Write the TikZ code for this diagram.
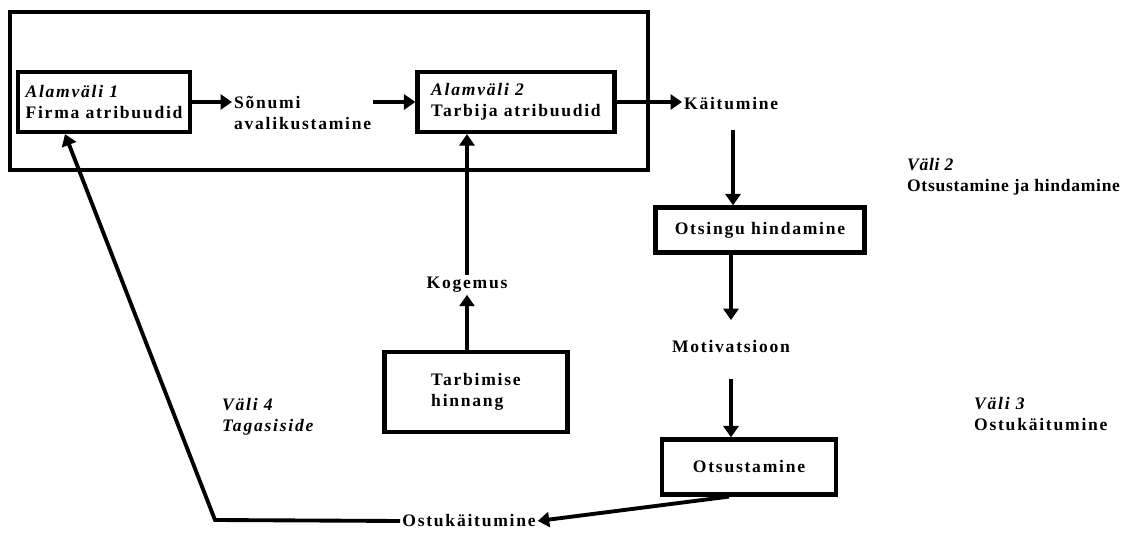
\documentclass[tikz,border=0pt]{standalone}
\usepackage{fontspec}
\setmainfont{Liberation Serif}[LetterSpace=10]
\usetikzlibrary{arrows.meta,calc}

\tikzset{
  blok/.style={draw, line width=2.4pt, align=left, inner sep=3pt},
  tekst/.style={align=left, inner sep=1pt},
  nool/.style={-{Triangle[width=8.5pt,length=6.5pt]}, line width=2.2pt},
}

\begin{document}
\begin{tikzpicture}[x=0.02cm, y=-0.02cm, font=\bfseries\fontsize{10}{12}\selectfont]
\useasboundingbox (0,0) rectangle (1139,540);

% outer frame
\node[draw, line width=2.4pt, minimum width=12.76cm, minimum height=3.16cm] (frame) at (329,91) {};

\node[blok, minimum width=3.44cm, minimum height=1.2cm] (firma) at (104,102) {\textit{Alamväli 1}\\Firma atribuudid};
\node[blok, minimum width=3.94cm, minimum height=1.2cm] (tarbija) at (516,102) {\textit{Alamväli 2}\\Tarbija atribuudid};
\node[tekst, anchor=west] (sonumi) at (232,113) {Sõnumi\\avalikustamine};
\node[tekst, anchor=west] (kaitumine) at (682,104) {Käitumine};
\node[blok, minimum width=4.18cm, minimum height=0.9cm] (otsing) at (760,230) {Otsingu hindamine};
\node[tekst] (motiv) at (731,346) {Motivatsioon};
\node[blok, minimum width=3.48cm, minimum height=1.1cm] (otsust) at (749,467) {Otsustamine};
\node[tekst] (ostu) at (469,521) {Ostukäitumine};
\node[tekst] (kogemus) at (467,285) {Kogemus};
\node[blok, minimum width=3.66cm, minimum height=1.6cm] (tarbimine) at (476,392) {Tarbimise\\hinnang};

\node[tekst, anchor=west] (vali2) at (905,177) {\addfontfeatures{LetterSpace=4}\textit{Väli 2}\\\addfontfeatures{LetterSpace=4}Otsustamine ja hindamine};
\node[tekst, anchor=west] (vali3) at (972,414) {\textit{Väli 3}\\Ostukäitumine};
\node[tekst, anchor=west] (vali4) at (220,417) {\textit{Väli 4}\\\textit{Tagasiside}};

\coordinate (nurk) at (215,520);
\coordinate (kaitumine-all) at (733,130);

\draw[nool] (firma.east) -- (firma.east -| sonumi.west);
\draw[nool] (sonumi.east |- tarbija.west) -- (tarbija.west);
\draw[nool] (tarbija.east) -- (tarbija.east -| kaitumine.west);
\draw[nool] (kaitumine-all) -- (kaitumine-all |- otsing.north);
\draw[nool, shorten >=10pt] (motiv.north |- otsing.south) -- (motiv.north);
\draw[nool, shorten <=14pt] (motiv.south) -- (motiv.south |- otsust.north);
\draw[nool] ($(otsust.south)+(-20,0)$) -- (ostu.east);
\draw[nool] (kogemus.south |- tarbimine.north) -- (kogemus.south);
\draw[nool] (kogemus.north) -- (kogemus.north |- tarbija.south);
\draw[nool] (ostu.west) -- (nurk) -- ($(firma.south)+(-39,0)$);
\end{tikzpicture}
\end{document}
